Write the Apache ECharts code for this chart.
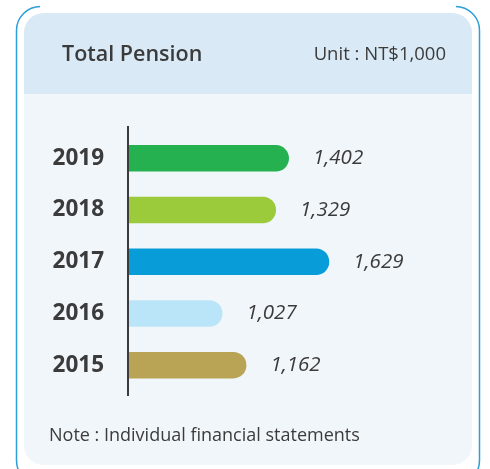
<!DOCTYPE html>
<html>
<head>
<meta charset="utf-8">
<script src="https://cdn.jsdelivr.net/npm/echarts@6/dist/echarts.min.js"></script>
<style>
  html, body { margin: 0; padding: 0; background: #fff; }
  #chart { width: 490px; height: 469px; }
</style>
</head>
<body>
<div id="chart"></div>
<script>
// data
const years = ['2019', '2018', '2017', '2016', '2015'];
const pension = [1402, 1329, 1629, 1027, 1162];
const barColors = ['#25b14f', '#9bca3b', '#089cd9', '#bae5f8', '#b8a454'];

const font = '"Open Sans", Lato, sans-serif';
const textColor = '#3b3b3b';
const chart = echarts.init(document.getElementById('chart'));

const option = {
  animation: false,
  backgroundColor: '#fff',
  grid: { left: 129, right: 95, top: 132.5, height: 258.5 },
  graphic: [
    // outer blue frame
    {
      type: 'rect', z: -10, silent: true,
      shape: { x: 16.5, y: 6.5, width: 463, height: 478, r: 24 },
      style: { fill: '#fff', stroke: '#2a9fd8', lineWidth: 1.5 }
    },
    // gap in the top edge of the frame
    {
      type: 'rect', z: -9, silent: true,
      shape: { x: 40, y: 0, width: 416, height: 10 },
      style: { fill: '#fff' }
    },
    // panel body
    {
      type: 'rect', z: -8, silent: true,
      shape: { x: 24, y: 13, width: 448, height: 452, r: 20 },
      style: { fill: '#f1f6fb' }
    },
    // panel header
    {
      type: 'rect', z: -7, silent: true,
      shape: { x: 24, y: 13, width: 448, height: 81, r: [20, 20, 0, 0] },
      style: { fill: '#d9eaf6' }
    },
    // vertical axis line
    {
      type: 'line', z: 10, silent: true,
      shape: { x1: 128, y1: 126, x2: 128, y2: 396 },
      style: { stroke: '#3b3b3b', lineWidth: 2 }
    },
    {
      type: 'text', silent: true, x: 62, y: 55,
      style: {
        text: 'Total Pension', fill: textColor, font: '600 21.5px ' + font,
        textAlign: 'left', textVerticalAlign: 'middle'
      }
    },
    {
      type: 'text', silent: true, x: 446, y: 55,
      style: {
        text: 'Unit : NT$1,000', fill: textColor, font: '400 18.5px ' + font,
        textAlign: 'right', textVerticalAlign: 'middle'
      }
    },
    {
      type: 'text', silent: true, x: 49, y: 436,
      style: {
        text: 'Note : Individual financial statements', fill: textColor, font: '400 18px ' + font,
        textAlign: 'left', textVerticalAlign: 'middle'
      }
    }
  ],
  xAxis: {
    type: 'value',
    min: 500,
    max: 2000,
    show: false
  },
  yAxis: {
    type: 'category',
    data: years,
    inverse: true,
    axisLine: { show: false },
    axisTick: { show: false },
    axisLabel: {
      margin: 25,
      fontFamily: font,
      fontSize: 22.5,
      fontWeight: 'bold',
      color: textColor
    }
  },
  series: [
    {
      type: 'bar',
      barWidth: 26.5,
      data: pension.map((v, i) => ({ value: v, itemStyle: { color: barColors[i] } })),
      itemStyle: { borderRadius: [0, 13, 13, 0] },
      label: {
        show: true,
        position: 'right',
        distance: 24,
        fontFamily: font,
        fontSize: 20.5,
        fontStyle: 'italic',
        color: textColor,
        formatter: p => p.value.toLocaleString('en-US')
      }
    }
  ]
};

chart.setOption(option);
</script>
</body>
</html>
